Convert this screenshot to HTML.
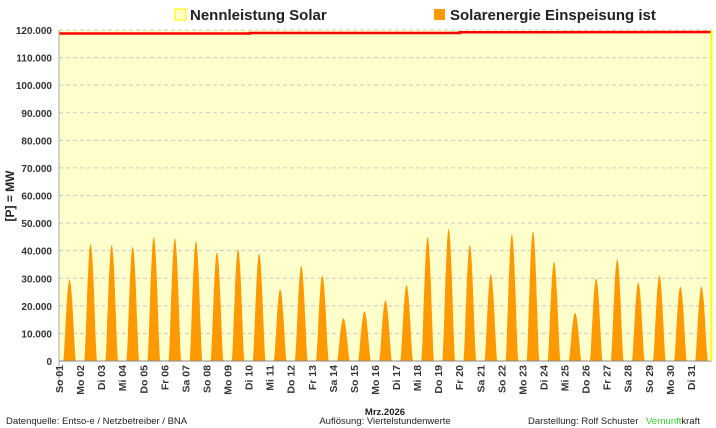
<!DOCTYPE html>
<html><head><meta charset="utf-8"><style>
body{margin:0;background:#fff;}
svg{display:block;font-family:"Liberation Sans",sans-serif;}
</style></head><body>
<svg id="s" width="716" height="428" xmlns="http://www.w3.org/2000/svg">
<rect x="59" y="30" width="653" height="331" fill="#ffffcc"/>
<g id="grid"></g>
<g id="peaks" fill="#ff9900"></g>
<polyline points="59,33.5 250,33.5 250,33 460,33 460,32.3 712,32" fill="none" stroke="#ff0000" stroke-width="2.5"/>
<line x1="59" y1="30" x2="59" y2="392" stroke="#aaa" stroke-width="1"/>
<line x1="59" y1="361" x2="712" y2="361" stroke="#888" stroke-width="1"/>
<line x1="711.5" y1="30" x2="711.5" y2="361" stroke="#ffff00" stroke-width="2"/>
<g id="yl" font-size="10" font-weight="bold" fill="#333" text-anchor="end"></g>
<g id="xl" font-size="10.5" font-weight="bold" fill="#333" text-anchor="end"></g>
<text transform="translate(14,196) rotate(-90)" text-anchor="middle" font-size="12" font-weight="bold" fill="#222">[P] = MW</text>
<rect x="175" y="9" width="11" height="11" fill="#ffffcc" stroke="#ffff00" stroke-width="1.2"/>
<text x="190" y="20" font-size="15" font-weight="bold" fill="#222">Nennleistung Solar</text>
<rect x="434" y="9" width="11" height="11" fill="#ff9900"/>
<text x="450" y="20" font-size="15" font-weight="bold" fill="#222">Solarenergie Einspeisung ist</text>
<text x="6" y="424" font-size="9.5" fill="#222">Datenquelle:  Entso-e  / Netzbetreiber / BNA</text>
<text x="385" y="415" text-anchor="middle" font-size="9.5" font-weight="bold" fill="#222">Mrz.2026</text>
<text x="385" y="424" text-anchor="middle" font-size="9.5" fill="#222">Auflösung: Viertelstundenwerte</text>
<text x="528" y="424" font-size="9.5" fill="#222">Darstellung:  Rolf Schuster</text>
<text x="646" y="424" font-size="9.5" fill="#33cc33">Vernunft<tspan fill="#222">kraft</tspan></text>
</svg>
<script>
const NS="http://www.w3.org/2000/svg";
const y0=361,k=331/120000,x0=59,dw=653/31;
const g=document.getElementById('grid'),yl=document.getElementById('yl');
for(let v=0;v<=120000;v+=10000){const y=y0-v*k;
 if(v>0){const l=document.createElementNS(NS,'line');l.setAttribute('x1',x0);l.setAttribute('x2',712);l.setAttribute('y1',y);l.setAttribute('y2',y);l.setAttribute('stroke','#c8c8c8');l.setAttribute('stroke-dasharray','4,3');g.appendChild(l);}
 const t=document.createElementNS(NS,'text');t.setAttribute('x',52);t.setAttribute('y',y+4);t.textContent=v==0?'0':(v/1000)+'.000';yl.appendChild(t);}
const P=[29.5,42.5,42,41.5,45,44.5,43.5,39.5,40.5,39,26,34.5,31,15.5,18,22,27.5,45,48,42,31.5,46,47,36,17.5,30,37,28.5,31,27,27];
const pk=document.getElementById('peaks');
P.forEach((p,i)=>{const c=x0+dw*(i+0.5),h=p*1000*k,hw=dw*0.3;let pts=[];
 for(let j=-12;j<=12;j++){const u=j/12;const f=Math.pow(1-u*u,1.6);pts.push((c+u*hw).toFixed(1)+','+(y0-h*f).toFixed(1));}
 const pl=document.createElementNS(NS,'polygon');pl.setAttribute('points',pts.join(' '));pk.appendChild(pl);});
const D=['So','Mo','Di','Mi','Do','Fr','Sa'];const xl=document.getElementById('xl');
for(let i=0;i<31;i++){const x=x0+dw*i+4;const t=document.createElementNS(NS,'text');t.setAttribute('transform','translate('+x+',365) rotate(-90)');t.textContent=D[i%7]+' '+String(i+1).padStart(2,'0');xl.appendChild(t);}
</script>
</body></html>
